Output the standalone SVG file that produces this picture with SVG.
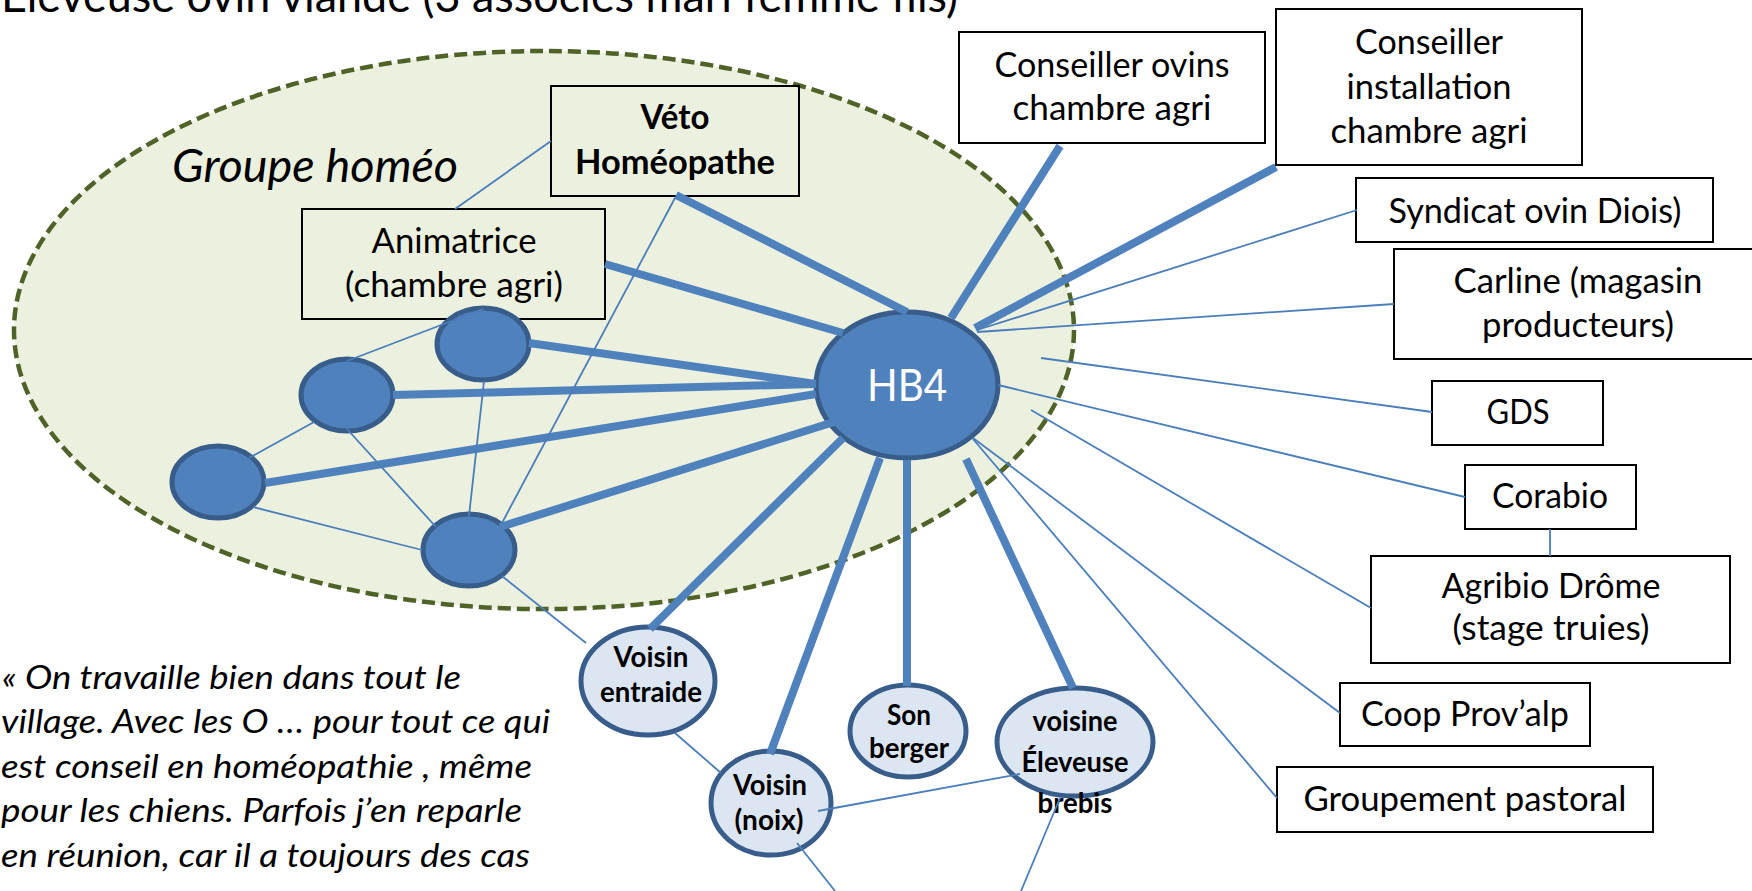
<svg xmlns="http://www.w3.org/2000/svg" width="1752" height="891" viewBox="0 0 1752 891">
<style>
.t{font-family:Lato,"Liberation Sans",sans-serif;font-size:34px;fill:#000;text-anchor:middle}
.tb{font-family:Lato,"Liberation Sans",sans-serif;font-size:28px;font-weight:bold;fill:#000;text-anchor:middle}
.q{font-family:Lato,"Liberation Sans",sans-serif;font-size:33px;font-style:italic;fill:#000}
.ti{font-family:Lato,"Liberation Sans",sans-serif;font-size:46px;fill:#000}
.box{fill:#fff;stroke:#000;stroke-width:2}
.boxg{fill:none;stroke:#000;stroke-width:2}
.dark{fill:#4F81BD;stroke:#385D8A;stroke-width:5}
.light{fill:#DCE6F2;stroke:#385D8A;stroke-width:5}
.thick{stroke:#4F81BD;stroke-width:8;fill:none}
.thin{stroke:#4A7EBB;stroke-width:1.8;fill:none}
</style>
<rect width="1752" height="891" fill="#fff"/>
<g id="groupe-homeo">
<ellipse cx="544" cy="330" rx="530" ry="279" fill="#EBF1DE" stroke="#4F6228" stroke-width="4.5" stroke-dasharray="13 6"/>
<text x="172" y="182" class="q" style="font-size:46px" textLength="286" lengthAdjust="spacingAndGlyphs">Groupe homéo</text>
</g>
<text id="title" x="1" y="12" class="ti" textLength="957" lengthAdjust="spacingAndGlyphs">Éleveuse ovin viande (3 associés mari femme fils)</text>
<g id="quote">
<text x="2" y="689" class="q" textLength="459" lengthAdjust="spacingAndGlyphs">« On travaille bien dans tout le</text>
<text x="1" y="733" class="q" textLength="549" lengthAdjust="spacingAndGlyphs">village. Avec les O … pour tout ce qui</text>
<text x="1" y="778" class="q" textLength="531" lengthAdjust="spacingAndGlyphs">est conseil en homéopathie , même</text>
<text x="1" y="822" class="q" textLength="521" lengthAdjust="spacingAndGlyphs">pour les chiens. Parfois j’en reparle</text>
<text x="1" y="867" class="q" textLength="529" lengthAdjust="spacingAndGlyphs">en réunion, car il a toujours des cas</text>
</g>
<g id="veto">
<rect x="551" y="86" width="248" height="110" class="boxg"/>
<text x="675" y="129" class="tb" style="font-size:35px" textLength="69" lengthAdjust="spacingAndGlyphs">Véto</text>
<text x="675" y="174" class="tb" style="font-size:35px" textLength="200" lengthAdjust="spacingAndGlyphs">Homéopathe</text>
</g>
<g id="animatrice">
<rect x="302" y="209" width="303" height="110" class="boxg"/>
<text x="454" y="253" class="t" textLength="165" lengthAdjust="spacingAndGlyphs">Animatrice</text>
<text x="454" y="297" class="t" textLength="218" lengthAdjust="spacingAndGlyphs">(chambre agri)</text>
</g>
<g id="conseiller-ovins">
<rect x="959" y="32" width="306" height="111" class="box"/>
<text x="1112" y="77" class="t" textLength="235" lengthAdjust="spacingAndGlyphs">Conseiller ovins</text>
<text x="1112" y="120" class="t" textLength="199" lengthAdjust="spacingAndGlyphs">chambre agri</text>
</g>
<g id="conseiller-installation">
<rect x="1276" y="9" width="306" height="156" class="box"/>
<text x="1429" y="54" class="t" textLength="148" lengthAdjust="spacingAndGlyphs">Conseiller</text>
<text x="1429" y="99" class="t" textLength="165" lengthAdjust="spacingAndGlyphs">installation</text>
<text x="1429" y="143" class="t" textLength="197" lengthAdjust="spacingAndGlyphs">chambre agri</text>
</g>
<g id="syndicat">
<rect x="1356" y="178" width="357" height="64" class="box"/>
<text x="1535" y="223" class="t" textLength="293" lengthAdjust="spacingAndGlyphs">Syndicat ovin Diois)</text>
</g>
<g id="carline">
<rect x="1394" y="249" width="370" height="110" class="box"/>
<text x="1578" y="293" class="t" textLength="249" lengthAdjust="spacingAndGlyphs">Carline (magasin</text>
<text x="1578" y="337" class="t" textLength="192" lengthAdjust="spacingAndGlyphs">producteurs)</text>
</g>
<g id="gds">
<rect x="1432" y="381" width="171" height="64" class="box"/>
<text x="1518" y="424" class="t" textLength="63" lengthAdjust="spacingAndGlyphs">GDS</text>
</g>
<g id="corabio">
<rect x="1465" y="465" width="171" height="64" class="box"/>
<text x="1550" y="508" class="t" textLength="116" lengthAdjust="spacingAndGlyphs">Corabio</text>
</g>
<g id="agribio">
<rect x="1371" y="556" width="359" height="107" class="box"/>
<text x="1551" y="598" class="t" textLength="219" lengthAdjust="spacingAndGlyphs">Agribio Drôme</text>
<text x="1551" y="640" class="t" textLength="197" lengthAdjust="spacingAndGlyphs">(stage truies)</text>
</g>
<g id="coop">
<rect x="1340" y="683" width="250" height="63" class="box"/>
<text x="1465" y="726" class="t" textLength="208" lengthAdjust="spacingAndGlyphs">Coop Prov’alp</text>
</g>
<g id="groupement">
<rect x="1277" y="767" width="376" height="65" class="box"/>
<text x="1465" y="811" class="t" textLength="323" lengthAdjust="spacingAndGlyphs">Groupement pastoral</text>
</g>
<g id="c1"><ellipse cx="483" cy="344" rx="46" ry="36" class="dark"/></g>
<g id="c2"><ellipse cx="347" cy="395" rx="46" ry="36" class="dark"/></g>
<g id="c3"><ellipse cx="218" cy="482" rx="46" ry="36" class="dark"/></g>
<g id="c4"><ellipse cx="469" cy="550" rx="46" ry="36" class="dark"/></g>
<g id="hb4">
<ellipse cx="907" cy="385" rx="91" ry="73" class="dark"/>
<text x="907" y="401" class="t" style="font-size:44px;fill:#fff" textLength="80" lengthAdjust="spacingAndGlyphs">HB4</text>
</g>
<g id="voisin-entraide">
<ellipse cx="648" cy="681" rx="67" ry="54" class="light"/>
<text x="651" y="667" class="tb" textLength="75" lengthAdjust="spacingAndGlyphs">Voisin</text>
<text x="651" y="702" class="tb" textLength="102" lengthAdjust="spacingAndGlyphs">entraide</text>
</g>
<g id="son-berger">
<ellipse cx="908" cy="731" rx="58" ry="46" class="light"/>
<text x="909" y="725" class="tb" textLength="44" lengthAdjust="spacingAndGlyphs">Son</text>
<text x="909" y="758" class="tb" textLength="80" lengthAdjust="spacingAndGlyphs">berger</text>
</g>
<g id="voisine-eleveuse">
<ellipse cx="1075" cy="742" rx="78" ry="54" class="light"/>
<text x="1075" y="731" class="tb" textLength="85" lengthAdjust="spacingAndGlyphs">voisine</text>
<text x="1075" y="772" class="tb" textLength="107" lengthAdjust="spacingAndGlyphs">Éleveuse</text>
<text x="1075" y="813" class="tb" textLength="75" lengthAdjust="spacingAndGlyphs">brebis</text>
</g>
<g id="voisin-noix">
<ellipse cx="771" cy="803" rx="60" ry="52" class="light"/>
<text x="770" y="795" class="tb" textLength="74" lengthAdjust="spacingAndGlyphs">Voisin</text>
<text x="769" y="830" class="tb" textLength="69" lengthAdjust="spacingAndGlyphs">(noix)</text>
</g>
<g id="connectors">
<line x1="676" y1="195" x2="907" y2="312" class="thick"/>
<line x1="605" y1="264" x2="843" y2="333" class="thick"/>
<line x1="529" y1="343" x2="816" y2="384" class="thick"/>
<line x1="393" y1="395" x2="816" y2="384" class="thick"/>
<line x1="265" y1="483" x2="816" y2="394" class="thick"/>
<line x1="500" y1="527" x2="872" y2="410" class="thick"/>
<line x1="650" y1="629" x2="843" y2="438" class="thick"/>
<line x1="770" y1="754" x2="880" y2="458" class="thick"/>
<line x1="907" y1="460" x2="907" y2="686" class="thick"/>
<line x1="966" y1="459" x2="1073" y2="688" class="thick"/>
<line x1="1060" y1="146" x2="951" y2="318" class="thick"/>
<line x1="1276" y1="167" x2="975" y2="328" class="thick" stroke-width="10"/>
<line x1="455" y1="209" x2="551" y2="141" class="thin"/>
<line x1="483" y1="309" x2="347" y2="361" class="thin"/>
<line x1="484" y1="381" x2="469" y2="516" class="thin"/>
<line x1="675" y1="198" x2="502" y2="523" class="thin"/>
<line x1="314" y1="422" x2="249" y2="458" class="thin"/>
<line x1="347" y1="429" x2="436" y2="527" class="thin"/>
<line x1="253" y1="507" x2="422" y2="550" class="thin"/>
<line x1="502" y1="576" x2="586" y2="643" class="thin"/>
<line x1="675" y1="733" x2="721" y2="773" class="thin"/>
<line x1="818" y1="811" x2="1020" y2="774" class="thin"/>
<line x1="797" y1="843" x2="835" y2="891" class="thin"/>
<line x1="1060" y1="798" x2="1021" y2="891" class="thin"/>
<line x1="1357" y1="210" x2="977" y2="330" class="thin"/>
<line x1="1394" y1="304" x2="977" y2="332" class="thin"/>
<line x1="1432" y1="412" x2="1041" y2="358" class="thin"/>
<line x1="1465" y1="497" x2="998" y2="385" class="thin"/>
<line x1="1550" y1="529" x2="1550" y2="556" class="thin"/>
<line x1="1371" y1="608" x2="1031" y2="410" class="thin"/>
<line x1="1340" y1="713" x2="973" y2="438" class="thin"/>
<line x1="1277" y1="798" x2="973" y2="439" class="thin"/>
</g>
</svg>
